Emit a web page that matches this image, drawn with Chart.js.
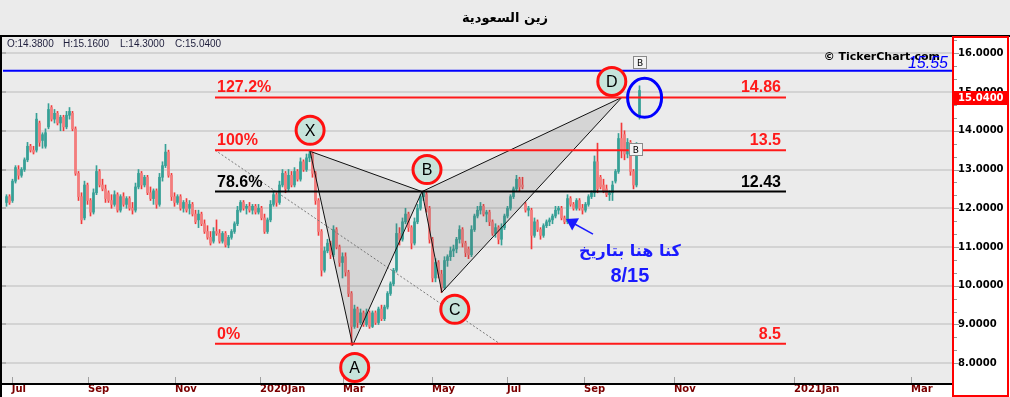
<!DOCTYPE html>
<html><head><meta charset="utf-8">
<script src="https://cdn.jsdelivr.net/npm/chart.js@4.4.1/dist/chart.umd.min.js"></script>
<style>html,body{margin:0;padding:0;background:#ebebeb;}canvas{display:block;}</style>
</head><body>
<canvas id="c" width="1010" height="397"></canvas>
<script>
// ---- data (daily candles) ----
const opens = [
12.15,12.30,12.20,12.70,13.00,12.85,13.00,13.25,13.60,13.50,
13.50,14.20,13.75,13.60,14.10,14.60,14.30,14.45,14.20,14.35,
14.10,14.40,14.45,14.05,12.90,12.30,11.75,12.60,12.20,11.90,
12.40,12.95,12.60,12.50,12.40,12.20,12.10,12.35,11.95,12.30,
12.10,12.25,12.00,11.95,12.55,12.90,12.60,12.80,12.40,12.25,
12.45,12.10,12.80,13.10,13.45,12.85,12.30,12.15,12.30,12.00,
12.15,12.00,12.10,11.85,11.70,11.85,11.60,11.40,11.25,11.15,
11.40,11.35,11.15,11.35,11.05,11.25,11.40,11.60,11.95,12.15,
12.00,12.05,11.95,12.05,11.90,12.00,11.75,11.40,11.70,12.10,
12.35,12.15,12.60,12.90,12.50,12.85,12.60,12.95,12.75,13.20,
13.00,13.30,13.40,12.90,12.20,11.40,10.40,10.90,11.10,10.80,
11.45,11.00,10.60,10.75,10.35,9.80,8.95,9.40,9.05,9.30,
9.00,9.30,8.95,9.30,9.05,9.40,9.15,9.45,9.80,10.05,
10.40,11.35,11.20,11.65,11.85,11.50,11.10,11.65,12.00,12.30,
12.35,12.00,11.20,10.20,10.60,10.30,9.95,10.65,10.75,10.90,
10.95,11.20,11.45,11.10,10.95,10.80,11.45,11.80,11.95,12.05,
11.85,11.90,11.65,11.35,11.50,11.20,11.50,11.80,12.00,12.30,
12.50,12.75,12.60,12.10,11.95,11.95,11.30,11.65,11.45,11.30,
11.55,11.65,11.70,11.80,11.95,12.00,11.75,11.65,12.25,12.10,
12.00,12.20,12.00,11.95,12.10,12.30,12.40,13.20,12.80,12.60,
12.50,12.35,12.40,12.70,12.95,13.80,13.90,13.40,13.70,12.95,
12.60,14.38];
const highs = [
12.35,12.35,12.75,13.10,13.10,13.05,13.30,13.70,13.65,13.60,
14.45,14.25,13.95,14.05,14.70,14.65,14.55,14.50,14.40,14.40,
14.50,14.60,14.50,14.10,12.95,12.40,12.70,12.65,12.25,12.50,
13.10,13.00,12.75,12.60,12.45,12.35,12.45,12.40,12.35,12.40,
12.30,12.30,12.15,12.65,13.00,12.95,12.85,12.85,12.55,12.50,
12.50,12.90,13.20,13.65,13.50,12.90,12.40,12.35,12.35,12.20,
12.25,12.20,12.15,11.95,11.95,11.90,11.70,11.55,11.40,11.50,
11.70,11.45,11.40,11.40,11.30,11.45,11.65,12.05,12.20,12.20,
12.10,12.15,12.10,12.10,12.10,12.05,11.85,11.75,12.20,12.45,
12.40,12.70,13.00,12.95,13.00,12.95,13.05,13.00,13.30,13.25,
13.40,13.47,13.45,12.95,12.25,11.45,11.00,11.20,11.15,11.55,
11.50,11.05,10.85,10.85,10.40,9.85,9.50,9.45,9.40,9.35,
9.40,9.35,9.35,9.35,9.45,9.50,9.50,9.85,10.10,10.45,
11.60,11.50,11.75,12.00,11.90,11.55,11.75,12.10,12.35,12.44,
12.42,12.05,11.25,10.70,10.65,10.40,10.75,10.80,11.00,11.05,
11.25,11.55,11.50,11.15,11.00,11.55,11.85,12.05,12.15,12.10,
11.95,11.95,11.70,11.60,11.55,11.60,11.85,12.05,12.35,12.55,
12.85,12.80,12.80,12.15,12.05,12.00,11.75,11.70,11.50,11.60,
11.70,11.75,11.85,12.05,12.05,12.05,11.80,12.35,12.30,12.15,
12.25,12.25,12.10,12.15,12.35,12.45,13.35,13.68,12.85,12.75,
12.60,12.45,12.70,13.00,13.93,14.20,14.00,13.80,13.75,13.00,
13.70,15.16];
const lows = [
12.05,12.10,12.15,12.65,12.75,12.80,12.95,13.20,13.45,13.40,
13.45,13.60,13.55,13.55,14.05,14.25,14.20,14.15,14.00,14.00,
14.05,14.30,14.00,12.85,12.20,11.60,11.70,12.10,11.80,11.85,
12.35,12.55,12.45,12.15,12.15,12.00,12.05,11.90,11.90,12.05,
12.00,11.95,11.85,11.90,12.50,12.50,12.55,12.35,12.20,12.10,
12.00,12.05,12.70,13.05,12.80,12.20,12.05,12.10,11.95,11.90,
11.90,11.85,11.80,11.60,11.50,11.55,11.35,11.20,11.05,11.10,
11.30,11.10,11.10,11.00,10.98,11.20,11.35,11.55,11.90,11.95,
11.85,11.90,11.85,11.85,11.85,11.70,11.35,11.35,11.65,12.05,
12.05,12.10,12.55,12.40,12.45,12.55,12.55,12.70,12.70,12.95,
12.95,13.20,12.80,12.10,11.30,10.25,10.35,10.85,10.70,10.75,
10.95,10.50,10.20,10.25,9.72,8.46,8.90,8.92,9.00,8.95,
8.95,8.90,8.92,9.00,9.00,9.10,9.10,9.40,9.75,10.00,
10.35,11.05,11.15,11.60,11.40,10.95,11.05,11.60,11.95,12.20,
11.90,11.10,10.10,10.10,10.20,9.82,9.90,10.50,10.65,10.75,
10.85,11.10,11.00,10.75,10.70,10.75,11.40,11.75,11.85,11.80,
11.65,11.55,11.30,11.25,11.08,11.05,11.45,11.75,11.95,12.25,
12.45,12.45,12.50,11.90,11.80,10.95,11.25,11.40,11.20,11.25,
11.50,11.55,11.60,11.75,11.85,11.70,11.60,11.60,12.05,11.95,
11.95,11.95,11.85,11.90,12.05,12.25,12.30,12.40,12.50,12.40,
12.30,12.20,12.20,12.65,12.90,13.30,13.25,13.30,12.85,12.50,
12.55,14.30];
const closes = [
12.30,12.15,12.70,13.05,12.85,13.00,13.25,13.60,13.50,13.45,
14.30,13.70,13.90,13.95,14.55,14.30,14.45,14.20,14.35,14.10,
14.40,14.50,14.05,12.90,12.30,11.70,12.60,12.20,11.90,12.40,
12.95,12.60,12.50,12.25,12.20,12.10,12.35,11.95,12.30,12.10,
12.25,12.00,11.95,12.55,12.90,12.60,12.80,12.40,12.25,12.45,
12.10,12.80,13.10,13.45,12.85,12.30,12.15,12.30,12.00,12.15,
11.95,12.10,11.85,11.65,11.85,11.60,11.40,11.25,11.10,11.40,
11.35,11.15,11.35,11.05,11.25,11.40,11.60,11.95,12.15,12.00,
12.05,11.95,12.05,11.90,12.00,11.75,11.40,11.70,12.10,12.35,
12.15,12.60,12.90,12.50,12.85,12.60,12.95,12.75,13.20,13.00,
13.30,13.40,12.90,12.20,11.40,10.40,10.90,11.10,10.80,11.45,
11.00,10.60,10.75,10.35,9.80,8.95,9.40,9.05,9.30,9.00,
9.30,8.95,9.30,9.05,9.40,9.15,9.45,9.80,10.05,10.40,
11.35,11.20,11.65,11.85,11.50,11.10,11.65,12.00,12.30,12.40,
12.00,11.20,10.20,10.60,10.30,9.95,10.65,10.75,10.90,10.95,
11.20,11.45,11.10,10.85,10.80,11.45,11.80,11.95,12.05,11.85,
11.90,11.65,11.35,11.50,11.20,11.50,11.80,12.00,12.30,12.50,
12.75,12.55,12.55,11.95,12.00,11.30,11.65,11.45,11.30,11.55,
11.65,11.70,11.80,11.95,12.00,11.75,11.65,12.25,12.10,12.00,
12.20,12.00,11.95,12.10,12.30,12.40,13.20,12.50,12.55,12.45,
12.35,12.40,12.60,12.95,13.80,13.50,13.40,13.70,12.95,12.60,
13.60,15.04];

const monthTickPos = [2.23, 27.67, 56.67, 85, 112.67, 142.33, 167.33, 193, 223, 263, 302];
const monthLabels  = ['Jul','Sep','Nov','2020Jan','Mar','May','Jul','Sep','Nov','2021Jan','Mar'];
const priceTicks   = [8,9,10,11,12,13,14,15,16];

const fibLabels    = ['127.2%','100%','78.6%','0%'];
const fibValues    = [14.86, 13.5, 12.43, 8.5];
const fibValueText = ['14.86','13.5','12.43','8.5'];
const fibRange     = [70, 260.33];

const patternNames = ['X','A','B','C','D'];
const patternPos   = [101.7, 115.9, 139.0, 145.6, 205.6];
const patternPrice = [13.47, 8.46, 12.43, 9.83, 14.86];

const resistanceLevel = 15.55;
const trendPos   = [70, 165];
const trendPrice = [13.5, 8.5];
const lastOHLC   = [14.38, 15.16, 14.30, 15.04];
const ohlcNames  = ['O','H','L','C'];
const noteLines  = ['كنا هنا بتاريخ', '8/15'];
const chartTitle = 'زين السعودية';

// ---- styles ----
const UP = '#36a096', DOWN_BODY = '#f37d7d', DOWN_WICK = '#f23a3a';
const circleOffsets = [[0,-21],[2,22],[5,-22],[13,17],[-10,-16]];

const candleX = opens.map((_, i) => i + 0.5);
const isUp = closes.map((c, i) => c >= opens[i]);

const overlay = {
  id: 'overlay',
  beforeDraw(chart) {
    const {ctx, chartArea: a} = chart;
    ctx.save();
    ctx.fillStyle = '#ebebeb'; ctx.fillRect(0, 0, 1010, 397);
    ctx.fillStyle = '#ffffff';
    ctx.fillRect(0, a.bottom, a.right, 397 - a.bottom);
    ctx.fillRect(a.right, 36, 1010 - a.right, 361);
    ctx.restore();
  },
  afterDatasetsDraw(chart) {
    const {ctx, chartArea: a, scales: {x: X, y: Y}} = chart;
    const px = v => X.getPixelForValue(v), py = v => Y.getPixelForValue(v);
    ctx.save();
    // x tick marks
    ctx.strokeStyle = '#a0a0a0'; ctx.lineWidth = 1;
    monthTickPos.forEach(v => { const x = Math.round(px(v)) + 0.5; ctx.beginPath(); ctx.moveTo(x, a.bottom - 6); ctx.lineTo(x, a.bottom); ctx.stroke(); });
    // dashed trend line
    ctx.strokeStyle = '#7a7a7a'; ctx.lineWidth = 1; ctx.setLineDash([2, 2]);
    ctx.beginPath(); ctx.moveTo(px(trendPos[0]), py(trendPrice[0])); ctx.lineTo(px(trendPos[1]), py(trendPrice[1])); ctx.stroke();
    ctx.setLineDash([]);
    // triangles
    const P = patternPos.map((u, i) => [px(u), py(patternPrice[i])]);
    [[0,1,2],[2,3,4]].forEach(t => {
      ctx.beginPath(); ctx.moveTo(P[t[0]][0], P[t[0]][1]); ctx.lineTo(P[t[1]][0], P[t[1]][1]); ctx.lineTo(P[t[2]][0], P[t[2]][1]); ctx.closePath();
      ctx.fillStyle = 'rgba(100,100,100,0.16)'; ctx.fill();
      ctx.strokeStyle = '#111'; ctx.lineWidth = 1; ctx.stroke();
    });
    // fib levels
    const x0 = px(fibRange[0]), x1 = px(fibRange[1]);
    ctx.font = 'bold 16px "Liberation Sans", Arial, sans-serif';
    fibValues.forEach((v, i) => {
      const col = fibLabels[i] === '78.6%' ? '#000000' : '#ff1a1a';
      const y = py(v);
      ctx.strokeStyle = col; ctx.lineWidth = 2;
      ctx.beginPath(); ctx.moveTo(x0, y); ctx.lineTo(x1, y); ctx.stroke();
      ctx.fillStyle = col; ctx.textBaseline = 'alphabetic';
      ctx.textAlign = 'left'; ctx.fillText(fibLabels[i], x0 + 2, y - 5);
      ctx.textAlign = 'right'; ctx.fillText(fibValueText[i], x1 - 5, y - 5);
    });
    // resistance line
    const yr = py(resistanceLevel);
    ctx.strokeStyle = '#0000ff'; ctx.lineWidth = 2;
    ctx.beginPath(); ctx.moveTo(a.left, yr); ctx.lineTo(a.right, yr); ctx.stroke();
    ctx.fillStyle = '#000'; ctx.font = 'bold 11px "DejaVu Sans", Verdana, sans-serif'; ctx.textAlign = 'right';
    ctx.fillText('© TickerChart.com', 940, 60);
    ctx.fillStyle = '#0000ff'; ctx.font = 'italic 16px "Liberation Sans", Arial, sans-serif';
    ctx.fillText(resistanceLevel.toFixed(2), a.right - 4, yr - 3);
    // circles
    patternNames.forEach((n, i) => {
      const cx = P[i][0] + circleOffsets[i][0], cy = P[i][1] + circleOffsets[i][1];
      ctx.beginPath(); ctx.arc(cx, cy, 14, 0, Math.PI * 2);
      ctx.fillStyle = '#c7e4db'; ctx.fill();
      ctx.strokeStyle = '#ff1010'; ctx.lineWidth = 3; ctx.stroke();
      ctx.fillStyle = '#000'; ctx.font = '16px "Liberation Sans", Arial, sans-serif';
      ctx.textAlign = 'center'; ctx.textBaseline = 'middle';
      ctx.fillText(n, cx, cy + 1);
    });
    // blue ellipse around last candle
    ctx.beginPath(); ctx.ellipse(px(213.2), py(14.85), 17, 19.5, 0, 0, Math.PI * 2);
    ctx.strokeStyle = '#0000ff'; ctx.lineWidth = 3; ctx.stroke();
    // arrow
    const tip = [px(187), py(11.72)], tail = [px(196), py(11.33)];
    ctx.strokeStyle = '#1a1aff'; ctx.lineWidth = 1.5;
    ctx.beginPath(); ctx.moveTo(tail[0], tail[1]); ctx.lineTo(tip[0] + 6, tip[1] + 3.4); ctx.stroke();
    const dx = tip[0] - tail[0], dy = tip[1] - tail[1], L = Math.hypot(dx, dy);
    const ux = dx / L, uy = dy / L;
    const bx = tip[0] - ux * 11, by = tip[1] - uy * 11;
    ctx.fillStyle = '#1a1aff';
    ctx.beginPath(); ctx.moveTo(tip[0], tip[1]);
    ctx.lineTo(bx - uy * 7, by + ux * 7); ctx.lineTo(bx + uy * 7, by - ux * 7); ctx.closePath(); ctx.fill();
    // note text
    ctx.textAlign = 'center'; ctx.textBaseline = 'alphabetic';
    ctx.font = 'bold 16px "DejaVu Sans", sans-serif';
    ctx.fillText(noteLines[0], px(208.3), py(10.77));
    ctx.font = 'bold 20px "Liberation Sans", Arial, sans-serif';
    ctx.fillText(noteLines[1], px(208.3), py(10.10));
    // small B boxes
    [[211.67, 15.76], [210.3, 13.52]].forEach(b => {
      const cx = px(b[0]), cy = py(b[1]);
      ctx.fillStyle = '#f4f4f4'; ctx.fillRect(cx - 7, cy - 6.5, 14, 13);
      ctx.strokeStyle = '#8a8a8a'; ctx.lineWidth = 1; ctx.strokeRect(Math.round(cx - 7) + 0.5, Math.round(cy - 6.5) + 0.5, 13, 12);
      ctx.fillStyle = '#000'; ctx.font = '9px "DejaVu Sans", sans-serif'; ctx.textAlign = 'center'; ctx.textBaseline = 'middle';
      ctx.fillText('B', cx, cy + 1);
    });
    ctx.restore();
  },
  afterDraw(chart) {
    const {ctx, chartArea: a, scales: {y: Y}} = chart;
    const py = v => Y.getPixelForValue(v);
    ctx.save();
    // frame
    ctx.fillStyle = '#000';
    ctx.fillRect(0, 35, 1010, 2);
    ctx.fillRect(0, 35, 2, 362);
    ctx.fillRect(0, a.bottom, a.right, 2);
    // left small ticks
    ctx.fillStyle = '#b0b0b0';
    priceTicks.forEach(v => ctx.fillRect(2, Math.round(py(v)) - 1, 4, 2));
    // y panel ticks
    ctx.fillStyle = '#9a9a9a';
    for (let k = 0; k <= 27; k++) {
      const v = 7.5 + 0.5 / 3 + k / 3; // placeholder replaced below
    }
    priceTicks.forEach(v => {
      [0, 1 / 3, 2 / 3].forEach((d, j) => {
        const y = Math.round(py(v + d));
        if (y > a.top && y < a.bottom) ctx.fillRect(954, y, j === 0 ? 5 : 3, 1);
      });
    });
    // current price tag
    const yc = Math.round(py(lastOHLC[3])) + 1;
    ctx.fillStyle = '#ff0000'; ctx.fillRect(952, yc, 55, 14);
    ctx.fillStyle = '#ffffff'; ctx.font = 'bold 10px "DejaVu Sans", Verdana, sans-serif';
    ctx.textAlign = 'left'; ctx.textBaseline = 'middle';
    ctx.fillText(lastOHLC[3].toFixed(4), 958, yc + 7.5);
    // red border of the price panel
    ctx.fillStyle = '#ff0000';
    ctx.fillRect(952, 36, 2, 361); ctx.fillRect(1007, 36, 2, 361);
    ctx.fillRect(952, 36, 57, 2); ctx.fillRect(952, 395, 57, 2);
    // title
    ctx.fillStyle = '#000'; ctx.font = 'bold 13px "DejaVu Sans", sans-serif';
    ctx.textAlign = 'center'; ctx.textBaseline = 'alphabetic';
    ctx.fillText(chartTitle, 505, 22);
    // OHLC info
    ctx.fillStyle = '#1e1e3c'; ctx.font = '10px "Liberation Sans", Arial, sans-serif'; ctx.textAlign = 'left';
    const ox = [7, 63, 120, 175];
    ohlcNames.forEach((n, i) => ctx.fillText(n + ':' + lastOHLC[i].toFixed(4), ox[i], 47));
    ctx.restore();
  }
};

new Chart(document.getElementById('c'), {
  type: 'bar',
  data: {
    datasets: [
      { label: 'wick', data: candleX.map((u, i) => ({x: u, y: [lows[i], highs[i]]})),
        backgroundColor: isUp.map(up => up ? UP : DOWN_WICK), barThickness: 1, grouped: false, order: 2, borderWidth: 0 },
      { label: 'body', data: candleX.map((u, i) => ({x: u, y: [opens[i], closes[i]]})),
        backgroundColor: isUp.map(up => up ? UP : DOWN_BODY), barThickness: 2, grouped: false, order: 1, borderWidth: 0 }
    ]
  },
  options: {
    responsive: false, animation: false, devicePixelRatio: 1,
    layout: { padding: { left: 3, top: 37, right: 0, bottom: 0 } },
    plugins: { legend: { display: false }, tooltip: { enabled: false } },
    scales: {
      x: { type: 'linear', min: -0.667, max: 315.667, offset: false,
           grid: { display: false, drawTicks: false, offset: false }, border: { display: false },
           afterBuildTicks: s => { s.ticks = monthTickPos.map(v => ({value: v})); },
           afterFit: s => { s.height = 14; },
           ticks: { autoSkip: false, maxRotation: 0, minRotation: 0, align: 'start', padding: 0,
                    color: '#7b0000', font: { family: '"DejaVu Sans", Verdana, sans-serif', size: 10, weight: 'bold' },
                    callback: (v, i) => monthLabels[i] } },
      y: { type: 'linear', position: 'right', min: 7.49, max: 16.42,
           grid: { color: '#d3d3d3', lineWidth: 2, drawTicks: false }, border: { display: false },
           afterBuildTicks: s => { s.ticks = priceTicks.map(v => ({value: v})); },
           afterFit: s => { s.width = 58; },
           ticks: { padding: 6, color: '#000', font: { family: '"DejaVu Sans", Verdana, sans-serif', size: 10, weight: 'bold' },
                    callback: v => Number(v).toFixed(4) } }
    }
  },
  plugins: [overlay]
});
</script>
</body></html>
